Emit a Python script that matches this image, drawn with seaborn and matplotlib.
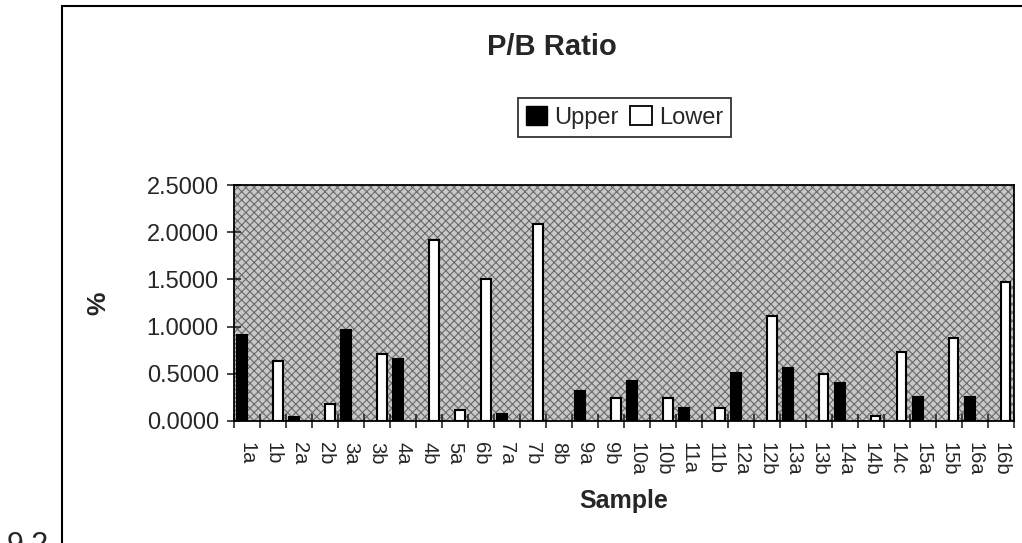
import matplotlib
matplotlib.use('Agg')
import matplotlib.pyplot as plt
import matplotlib.patches as mpatches
import numpy as np
import pandas as pd
import seaborn as sns

samples = ['1a', '1b', '2a', '2b', '3a', '3b', '4a', '4b', '5a', '6b',
           '7a', '7b', '8b', '9a', '9b', '10a', '10b', '11a', '11b', '12a',
           '12b', '13a', '13b', '14a', '14b', '14c', '15a', '15b', '16a', '16b']
upper = [0.91, None, 0.04, None, 0.96, None, 0.66, None, None, None,
         0.07, None, None, 0.315, None, 0.42, None, 0.14, None, 0.51,
         None, 0.567, None, 0.40, None, None, 0.25, None, 0.25, None]
lower = [None, 0.637, None, 0.175, None, 0.71, None, 1.92, 0.115, 1.505,
         None, 2.085, None, None, 0.245, None, 0.245, None, 0.14, None,
         1.115, None, 0.503, None, 0.055, 0.735, None, 0.885, None, 1.477]
yticks = [0.0, 0.5, 1.0, 1.5, 2.0, 2.5]

rows = []
for s, u, l in zip(samples, upper, lower):
    if u is not None:
        rows.append({'Sample': s, 'Position': 'Upper', 'Ratio': u})
    if l is not None:
        rows.append({'Sample': s, 'Position': 'Lower', 'Ratio': l})
df = pd.DataFrame(rows)

sns.set_style('ticks')
plt.rcParams['font.family'] = ['Liberation Sans', 'DejaVu Sans']
plt.rcParams['hatch.linewidth'] = 0.8

fig = plt.figure(figsize=(10.22, 5.43), dpi=100)
ax = fig.add_axes([0.229, 0.2247, 0.763, 0.4343])
ax.set_facecolor('#c8c8c8')
# dotted fill of the plot area
ax.add_patch(mpatches.Rectangle((0, 0), 1, 1, transform=ax.transAxes, facecolor='none',
                                edgecolor='#6a6a6a', hatch='xxxx', linewidth=0, zorder=0))

sns.barplot(data=df, x='Sample', y='Ratio', hue='Position', order=samples,
            hue_order=['Upper', 'Lower'], palette={'Upper': 'black', 'Lower': 'white'},
            edgecolor='black', linewidth=1.5, width=0.74, dodge=True, errorbar=None,
            legend=False, ax=ax, zorder=2)

ax.set_xlim(-0.5, len(samples) - 0.5)
ax.set_ylim(0, 2.5)
ax.set_yticks(yticks)
ax.set_yticklabels(['{:.4f}'.format(v) for v in yticks], fontsize=17)
ax.tick_params(axis='y', direction='inout', length=10, width=1.2, pad=6)
ax.set_xticks(range(len(samples)))
ax.set_xticklabels(samples, rotation=-90, fontsize=14.5)
ax.tick_params(axis='x', which='major', length=0, pad=15)
ax.set_xticks(np.arange(-0.5, len(samples), 1), minor=True)
ax.tick_params(axis='x', which='minor', direction='inout', length=10, width=1.2)

for sp in ax.spines.values():
    sp.set_visible(True)
    sp.set_color('black')
    sp.set_linewidth(1.3)

ax.set_xlabel('Sample', fontsize=18, fontweight='bold', labelpad=10)
ax.set_ylabel('%', fontsize=19, fontweight='bold', labelpad=26)

fig.text(0.54, 0.913, 'P/B Ratio', ha='center', va='center',
         fontsize=21, fontweight='bold')

handles = [mpatches.Patch(facecolor='black', edgecolor='black', label='Upper'),
           mpatches.Patch(facecolor='white', edgecolor='black', linewidth=1.3, label='Lower')]
leg = fig.legend(handles=handles, loc='center', bbox_to_anchor=(0.611, 0.784), ncol=2,
                 fontsize=17, frameon=True, fancybox=False, handlelength=0.9,
                 handleheight=0.9, handletextpad=0.3, columnspacing=0.5,
                 borderpad=0.35, edgecolor='black')
leg.get_frame().set_linewidth(1.3)

# outer box of the page
fig.patches.append(mpatches.Rectangle((0.0607, -0.1), 1.0, 1.089, transform=fig.transFigure,
                                      fill=False, edgecolor='black', linewidth=1.5))
fig.text(0.006, -0.02, '9.2', ha='left', va='baseline', fontsize=22)

plt.savefig('out.png', dpi=100)
plt.close('all')
